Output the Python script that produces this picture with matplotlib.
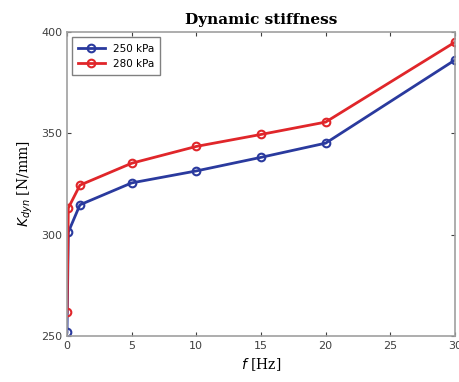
import matplotlib.pyplot as plt

freq = [0, 0.1, 1, 5, 10, 15, 20, 30]
k_250 = [252, 301.3, 314.8, 325.6, 331.5, 338.2, 345.2, 386.2]
k_280 = [261.8, 313.2, 324.5, 335.3, 343.6, 349.5, 355.6, 395.0]

fig = plt.figure(figsize=(4.59, 3.82), dpi=100)
ax = fig.add_axes([0.146, 0.12, 0.845, 0.796])

ax.plot(freq, k_250, color='#2a3a9e', lw=2, marker='o', ms=5.5,
        mfc='none', mew=1.5, label='250 kPa')
ax.plot(freq, k_280, color='#e0262a', lw=2, marker='o', ms=5.5,
        mfc='none', mew=1.5, label='280 kPa')

ax.set_xlim(0, 30)
ax.set_ylim(250, 400)
ax.set_xticks([0, 5, 10, 15, 20, 25, 30])
ax.set_yticks([250, 300, 350, 400])
ax.tick_params(direction='in', top=True, right=True, labelsize=8,
               colors='#404040', length=3)
for s in ax.spines.values():
    s.set_color('#a0a0a0')
    s.set_linewidth(1.2)

ax.set_title('Dynamic stiffness', family='serif', fontweight='bold', fontsize=11)
ax.set_xlabel(r'$f$ [Hz]', family='serif', fontsize=10)
ax.set_ylabel(r'$K_{dyn}$ [N/mm]', family='serif', fontsize=10)
ax.legend(loc='upper left', fontsize=7.5, fancybox=False, edgecolor='#606060',
          handlelength=2.5, borderpad=0.6)

fig.savefig('out.png', dpi=100)
